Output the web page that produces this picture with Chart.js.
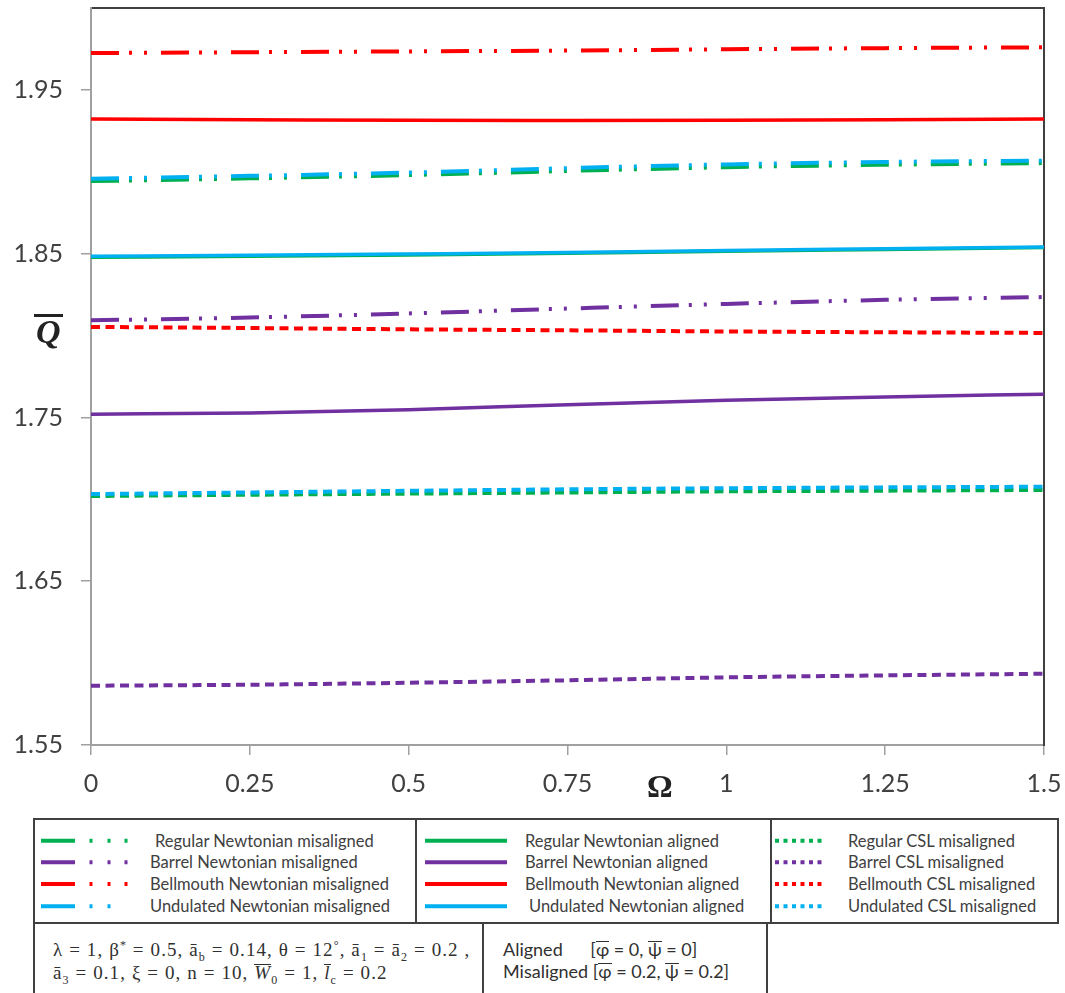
<!DOCTYPE html>
<html>
<head>
<meta charset="utf-8">
<script src="https://cdn.jsdelivr.net/npm/chart.js@4.4.1/dist/chart.umd.min.js"></script>
<style>
  html, body { margin: 0; padding: 0; background: #fff; }
  #wrap { position: relative; width: 1065px; height: 993px; overflow: hidden; font-family: Lato, "Open Sans", sans-serif; }
  #plot { position: absolute; left: 0; top: 0; }
  .t { position: absolute; white-space: nowrap; transform: translateY(-50%); }
  .leg { font-size: 16.5px; color: #404040; }
  .box { position: absolute; border: 2px solid #404040; box-sizing: border-box; }
  .math { font-family: "Liberation Serif", "DejaVu Serif", serif; font-size: 19px; letter-spacing: 1.1px; color: #303030; }
  .math sub, .math sup { font-size: 12px; line-height: 0; }
  .ob { display: inline-block; line-height: 0.75em; border-top: 1.3px solid currentColor; padding-top: 1px; }
  #qlab { position: absolute; left: 34px; top: 314px; font-family: "Liberation Serif", serif; font-weight: bold; font-style: italic; font-size: 34px; line-height: 34px; color: #222; }
  #qlab span { display: inline-block; border-top: 3px solid #222; line-height: 30px; padding: 0 2px; }
  #wlab { position: absolute; left: 647px; top: 769px; font-family: "Liberation Serif", serif; font-weight: bold; font-size: 32px; line-height: 34px; color: #222; }
  #legsvg { position: absolute; left: 0; top: 818px; }
  .small { font-size: 18px; color: #303030; font-family: Lato, sans-serif; }
</style>
</head>
<body>
<div id="wrap">
  <canvas id="plot" width="1065" height="800" style="width:1065px;height:800px"></canvas>
  <div id="qlab"><span>Q</span></div>
  <div id="wlab">Ω</div>

  <div class="box" style="left:33px;top:818px;width:384px;height:106px"></div>
  <div class="box" style="left:415px;top:818px;width:357px;height:106px"></div>
  <div class="box" style="left:770px;top:818px;width:289px;height:106px"></div>
  <div class="box" style="left:33px;top:922px;width:451px;height:90px"></div>
  <div class="box" style="left:482px;top:922px;width:286px;height:90px"></div>

  <svg id="legsvg" width="1065" height="110"></svg>
  <div id="legtext"></div>

  <div class="t math" style="left:53px;top:950px">λ = 1, β<sup>*</sup> = 0.5, ā<sub>b</sub> = 0.14, θ = 12<sup>°</sup>, ā<sub>1</sub> = ā<sub>2</sub> = 0.2 ,</div>
  <div class="t math" style="left:53px;top:973px">ā<sub>3</sub> = 0.1, ξ = 0, n = 10, <span class="ob"><i>W</i></span><sub>0</sub> = 1, <span class="ob"><i>l</i></span><sub>c</sub> = 0.2</div>
  <div class="t small" style="left:503px;top:949px">Aligned&nbsp;&nbsp;&nbsp;&nbsp;&nbsp;&nbsp;[<span class="ob">φ</span> = 0, <span class="ob">ψ</span> = 0]</div>
  <div class="t small" style="left:503px;top:971px">Misaligned [<span class="ob">φ</span> = 0.2, <span class="ob">ψ</span> = 0.2]</div>
</div>

<script>
// Rotational speed Ω (x values)
const omega = [0, 0.25, 0.5, 0.75, 1, 1.25, 1.5];

// Dimensionless flow rate Q̄ — Newtonian, misaligned
const regularNewtonMis   = [1.8943, 1.8960, 1.8980, 1.9005, 1.9028, 1.9043, 1.9053];
const barrelNewtonMis    = [1.8093, 1.8110, 1.8135, 1.8165, 1.8193, 1.8218, 1.8235];
const bellmouthNewtonMis = [1.9725, 1.9730, 1.9735, 1.9740, 1.9748, 1.9755, 1.9760];
const undulatedNewtonMis = [1.8957, 1.8975, 1.8995, 1.9022, 1.9045, 1.9060, 1.9068];

// Newtonian, aligned
const regularNewtonAl    = [1.8478, 1.8484, 1.8492, 1.8502, 1.8515, 1.8526, 1.8537];
const barrelNewtonAl     = [1.7520, 1.7527, 1.7547, 1.7578, 1.7605, 1.7625, 1.7642];
const bellmouthNewtonAl  = [1.9322, 1.9318, 1.9314, 1.9313, 1.9314, 1.9317, 1.9322];
const undulatedNewtonAl  = [1.8484, 1.8490, 1.8498, 1.8507, 1.8520, 1.8530, 1.8540];

// CSL fluid, misaligned
const regularCslMis      = [1.7020, 1.7028, 1.7035, 1.7042, 1.7049, 1.7053, 1.7057];
const barrelCslMis       = [1.5862, 1.5868, 1.5880, 1.5895, 1.5913, 1.5925, 1.5935];
const bellmouthCslMis    = [1.8053, 1.8046, 1.8038, 1.8032, 1.8025, 1.8020, 1.8016];
const undulatedCslMis    = [1.7032, 1.7042, 1.7052, 1.7061, 1.7068, 1.7073, 1.7077];

// Axis ticks
const xTickValues = [0, 0.25, 0.5, 0.75, 1, 1.25, 1.5];
const yTickValues = [1.55, 1.65, 1.75, 1.85, 1.95];
const yMin = 1.55, yMax = 2.0;

const GREEN = '#00B050', PURPLE = '#7030A0', RED = '#FF0000', BLUE = '#00B0F0';
const DASH_DOT_DOT = [28, 10, 3, 12, 3, 14];
const SHORT_DASH = [9, 5.5];

// legend entries, grouped by table column
const columns = [
  { kind: 'mis', textX: 150, entries: [
    { label: 'Regular Newtonian misaligned', color: GREEN, data: regularNewtonMis, order: 1, dx: 5 },
    { label: 'Barrel Newtonian misaligned', color: PURPLE, data: barrelNewtonMis, order: 2 },
    { label: 'Bellmouth Newtonian misaligned', color: RED, data: bellmouthNewtonMis, order: 2 },
    { label: 'Undulated Newtonian misaligned', color: BLUE, data: undulatedNewtonMis, order: 0, twoDots: true } ] },
  { kind: 'al', textX: 525, entries: [
    { label: 'Regular Newtonian aligned', color: GREEN, data: regularNewtonAl, order: 1 },
    { label: 'Barrel Newtonian aligned', color: PURPLE, data: barrelNewtonAl, order: 2 },
    { label: 'Bellmouth Newtonian aligned', color: RED, data: bellmouthNewtonAl, order: 2 },
    { label: 'Undulated Newtonian aligned', color: BLUE, data: undulatedNewtonAl, order: 0, dx: 4 } ] },
  { kind: 'csl', textX: 848, entries: [
    { label: 'Regular CSL misaligned', color: GREEN, data: regularCslMis, order: 1 },
    { label: 'Barrel CSL misaligned', color: PURPLE, data: barrelCslMis, order: 2 },
    { label: 'Bellmouth CSL misaligned', color: RED, data: bellmouthCslMis, order: 2 },
    { label: 'Undulated CSL misaligned', color: BLUE, data: undulatedCslMis, order: 0 } ] }
];

const styleFor = { mis: { width: 4, dash: DASH_DOT_DOT }, al: { width: 3.5, dash: [] }, csl: { width: 4, dash: SHORT_DASH } };

const datasets = [];
columns.forEach(col => col.entries.forEach(e => {
  const s = styleFor[col.kind];
  datasets.push({
    label: e.label,
    data: omega.map((x, i) => ({ x: x, y: e.data[i] })),
    borderColor: e.color,
    backgroundColor: e.color,
    borderWidth: s.width,
    borderDash: s.dash,
    borderCapStyle: 'butt',
    pointRadius: 0,
    cubicInterpolationMode: 'monotone',
    fill: false,
    order: e.order
  });
}));

const tickFont = { family: 'Lato, sans-serif', size: 25 };
const noPad = s => { s.paddingTop = 0; s.paddingBottom = 0; s.paddingLeft = 0; s.paddingRight = 0; };

new Chart(document.getElementById('plot'), {
  type: 'line',
  data: { datasets: datasets },
  options: {
    responsive: false,
    animation: false,
    devicePixelRatio: 1,
    layout: { padding: { left: 0, top: 8, right: 21, bottom: 0 } },
    plugins: { legend: { display: false }, tooltip: { enabled: false } },
    scales: {
      x: {
        type: 'linear', position: 'bottom', min: 0, max: 1.5,
        afterBuildTicks: s => { s.ticks = xTickValues.map(v => ({ value: v })); },
        afterFit: s => { s.height = 55; noPad(s); },
        ticks: { font: tickFont, color: '#404040', padding: 14, maxRotation: 0, callback: v => String(v) },
        grid: { drawOnChartArea: false, drawTicks: true, tickLength: 10, color: '#a0a0a0', lineWidth: 1.5 },
        border: { color: '#a0a0a0', width: 2 }
      },
      xTop: {
        type: 'linear', position: 'top', min: 0, max: 1.5,
        afterFit: s => { s.height = 0; noPad(s); },
        ticks: { display: false },
        grid: { display: false, drawTicks: false },
        border: { color: '#404040', width: 2 }
      },
      y: {
        type: 'linear', position: 'left', min: yMin, max: yMax,
        afterBuildTicks: s => { s.ticks = yTickValues.map(v => ({ value: v })); },
        afterFit: s => { s.width = 91; noPad(s); },
        ticks: { font: tickFont, color: '#404040', padding: 18, callback: v => v.toFixed(2) },
        grid: { drawOnChartArea: false, drawTicks: true, tickLength: 10, color: '#a0a0a0', lineWidth: 1.5 },
        border: { color: '#a0a0a0', width: 2 }
      },
      yRight: {
        type: 'linear', position: 'right', min: yMin, max: yMax,
        afterFit: s => { s.width = 0; noPad(s); },
        ticks: { display: false },
        grid: { display: false, drawTicks: false },
        border: { color: '#404040', width: 2 }
      }
    }
  }
});

// Legend tables: sample strokes + labels
const rowY = [840.7, 862.3, 884, 906.3];
const svg = document.getElementById('legsvg');
const legText = document.getElementById('legtext');
const NS = 'http://www.w3.org/2000/svg';
const sample = {
  mis: { x1: 41, x2: 128, dash: '34 14.5 3 15 3 14 3 100', dashTwo: '34 14.5 3 15 3 100' },
  al:  { x1: 425, x2: 507, dash: null },
  csl: { x1: 775, x2: 822, dash: '4 4.5' }
};
columns.forEach(col => col.entries.forEach((e, r) => {
  const sp = sample[col.kind];
  const ln = document.createElementNS(NS, 'line');
  const yy = rowY[r] - 818;
  ln.setAttribute('x1', sp.x1); ln.setAttribute('x2', sp.x2);
  ln.setAttribute('y1', yy); ln.setAttribute('y2', yy);
  ln.setAttribute('stroke', e.color);
  ln.setAttribute('stroke-width', 4);
  const d = e.twoDots ? sp.dashTwo : sp.dash;
  if (d) ln.setAttribute('stroke-dasharray', d);
  svg.appendChild(ln);
  const t = document.createElement('div');
  t.className = 't leg';
  t.style.left = (col.textX + (e.dx || 0)) + 'px';
  t.style.top = rowY[r] + 'px';
  t.textContent = e.label;
  legText.appendChild(t);
}));
</script>
</body>
</html>
